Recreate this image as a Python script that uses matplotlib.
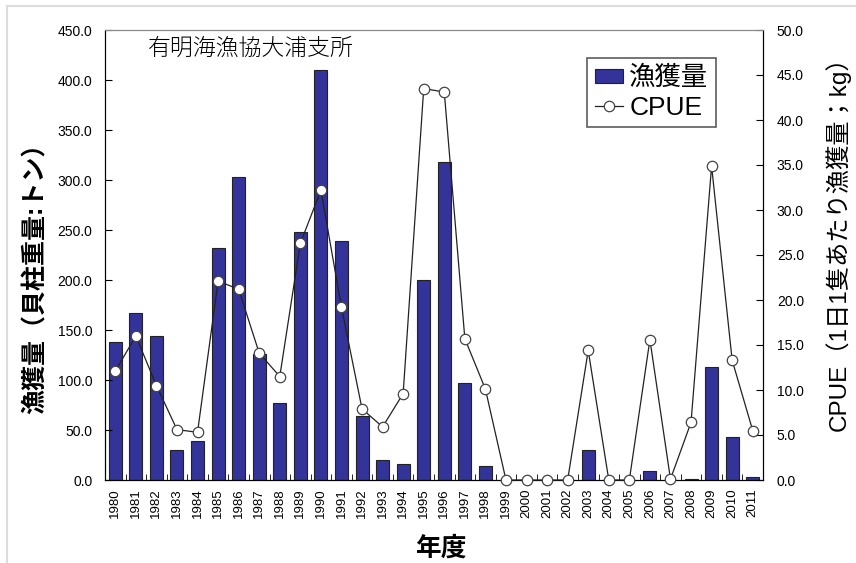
import matplotlib
matplotlib.use('Agg')
import matplotlib.pyplot as plt
import numpy as np
from matplotlib.lines import Line2D

plt.rcParams['font.family'] = ['Liberation Sans', 'Noto Sans CJK JP']

years = list(range(1980, 2012))
catch = [138, 167, 144, 30, 39, 232, 303, 126, 77, 248, 410, 239, 64, 20, 16,
         200, 318, 97, 14, 0, 0, 0, 0, 30, 0, 0, 9, 0, 1.3, 113, 43, 3]
cpue = [12.1, 16.0, 10.5, 5.6, 5.3, 22.1, 21.2, 14.1, 11.5, 26.3, 32.2, 19.2,
        7.9, 5.9, 9.6, 43.5, 43.1, 15.7, 10.1, 0, 0, 0, 0, 14.4, 0, 0, 15.6,
        0.1, 6.4, 34.9, 13.3, 5.5]
left_ticks = np.arange(0, 451, 50)
right_ticks = np.arange(0, 51, 5)

W, H = 856, 563
fig = plt.figure(figsize=(W / 100, H / 100), dpi=100)
# 外枠 (上と左だけ見えている)
fig.lines.append(Line2D([7 / W, 7 / W], [0, 1 - 6 / H], transform=fig.transFigure,
                        color='#dcdcdc', linewidth=1.5))
fig.lines.append(Line2D([7 / W, 1], [1 - 6 / H, 1 - 6 / H], transform=fig.transFigure,
                        color='#dcdcdc', linewidth=1.5))

ax1 = fig.add_axes([105 / W, 1 - 480 / H, 658 / W, 450 / H])
x = np.arange(len(years))
b = ax1.bar(x, catch, width=0.63, color='#333399', edgecolor='#222222', linewidth=0.8)
ax1.set_xlim(-0.5, len(years) - 0.5)
ax1.set_ylim(0, 450)
ax1.set_yticks(left_ticks)
ax1.set_yticklabels(['%.1f' % v for v in left_ticks], fontsize=10)
ax1.set_xticks(x)
ax1.set_xticklabels([str(y) for y in years], rotation=90, fontsize=9.5)
ax1.set_xticks(np.arange(-0.5, len(years), 1), minor=True)
ax1.tick_params(axis='x', which='major', length=0, pad=6)
ax1.tick_params(axis='x', which='minor', direction='in', length=4)
ax1.tick_params(axis='y', direction='in', length=5, pad=9)
ax1.spines['top'].set_color('#888888')
ax1.set_ylabel('漁獲量（貝柱重量:トン）', fontsize=18, fontweight='bold')
ax1.yaxis.set_label_coords((48 - 105) / 658, (480 - 272) / 450)
ax1.set_xlabel('年度', fontsize=18.5, fontweight='bold')
ax1.xaxis.set_label_coords((441 - 105) / 658, (480 - 536) / 450)
ax1.text((148 - 105) / 658, 0.985, '有明海漁協大浦支所', transform=ax1.transAxes,
         fontsize=16.5, fontweight='light', ha='left', va='top')

ax2 = ax1.twinx()
l, = ax2.plot(x, cpue, color='#222222', linewidth=0.9, marker='o', markersize=7.5,
              markerfacecolor='white', markeredgecolor='#444444', markeredgewidth=0.9,
              clip_on=False, zorder=3)
ax2.set_ylim(0, 50)
ax2.set_yticks(right_ticks)
ax2.set_yticklabels(['%.1f' % v for v in right_ticks], fontsize=10)
ax2.tick_params(axis='y', direction='in', length=5, pad=10)
ax2.spines['top'].set_color('#888888')
ax2.set_ylabel('CPUE（1日1隻あたり漁獲量；kg）', fontsize=17.5)
ax2.yaxis.set_label_coords((825 - 105) / 658, (480 - 238) / 450)

leg = ax2.legend([b, l], ['漁獲量', 'CPUE'], loc='upper left',
                 bbox_to_anchor=((587 - 105) / 658, (480 - 58) / 450),
                 fontsize=19, frameon=True, fancybox=False, edgecolor='#333333',
                 handlelength=1.05, handleheight=0.45, handletextpad=0.25, borderpad=0.3,
                 labelspacing=0.2, borderaxespad=0)
leg.get_frame().set_linewidth(1.2)

plt.savefig('out.png', dpi=100)
